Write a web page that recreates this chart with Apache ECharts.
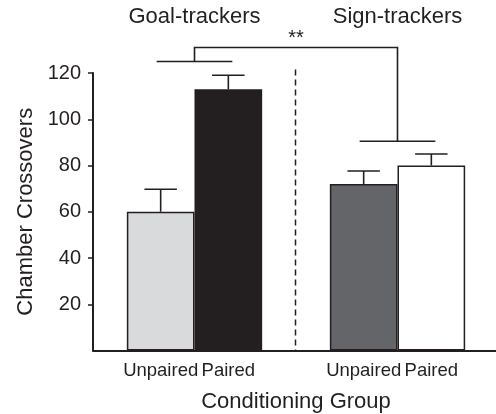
<!DOCTYPE html>
<html>
<head>
<meta charset="utf-8">
<script src="https://cdn.jsdelivr.net/npm/echarts@6/dist/echarts.min.js"></script>
<style>html,body{margin:0;padding:0;background:#fff;}#c{width:496px;height:414px;}</style>
</head>
<body>
<div id="c"></div>
<script>
// ---- data ----
const groups = ['Goal-trackers', 'Sign-trackers'];
const conditions = ['Unpaired', 'Paired'];
const unpairedMeans = [60, 72];
const pairedMeans = [113, 80];
const unpairedSem = [9.7, 5.6];
const pairedSem = [6, 5];
const yTickValues = [20, 40, 60, 80, 100, 120];
const groupBracketLevels = [125, 90.5];
const overallBracketLevel = 131;
const significanceText = '**';
const separatorTop = 121.5;

// ---- styles ----
const INK = '#231f20';
const FONT = '"Liberation Sans", Arial, Helvetica, sans-serif';
const unpairedColors = ['#d9dadc', '#646568'];
const pairedColors = ['#231f20', '#ffffff'];

const chart = echarts.init(document.getElementById('c'), null, {renderer: 'canvas'});

const errRows = [];
unpairedMeans.forEach((m, i) => errRows.push([i, m, unpairedSem[i], -1]));
pairedMeans.forEach((m, i) => errRows.push([i, m, pairedSem[i], 1]));

function barSeries(name, means, colors) {
  return {
    type: 'bar', name: name, barWidth: '33.33%', barGap: 0,
    data: means.map((v, i) => ({value: v, itemStyle: {color: colors[i]}})),
    itemStyle: {borderColor: INK, borderWidth: 1.5},
    label: {show: true, position: 'bottom', distance: 11, formatter: '{a}',
            fontSize: 18.5, fontFamily: FONT, color: INK},
    emphasis: {disabled: true},
    silent: true
  };
}

const option = {
  animation: false,
  backgroundColor: '#fff',
  grid: {left: 93, top: 73, width: 406, bottom: 63.5, outerBoundsMode: 'none', containLabel: false},
  xAxis: [
    {
      type: 'category', data: groups, position: 'bottom',
      name: 'Conditioning Group', nameLocation: 'middle', nameGap: 40,
      nameTextStyle: {fontSize: 22, fontFamily: FONT, color: INK},
      axisLine: {lineStyle: {color: INK, width: 2}},
      axisTick: {show: false},
      axisLabel: {show: false},
      splitLine: {show: false}
    },
    {
      type: 'category', data: groups, position: 'top',
      axisLine: {show: false}, axisTick: {show: false},
      axisLabel: {fontSize: 22, fontFamily: FONT, color: INK, margin: 45},
      splitLine: {show: false}
    }
  ],
  yAxis: {
    type: 'value', min: 0, max: 120, interval: 20,
    name: 'Chamber Crossovers', nameLocation: 'middle', nameGap: 55,
    nameTextStyle: {fontSize: 22, fontFamily: FONT, color: INK},
    axisLine: {show: true, lineStyle: {color: INK, width: 2}},
    axisTick: {show: true, length: 5, lineStyle: {color: INK, width: 1.5}, customValues: yTickValues},
    axisLabel: {fontSize: 20, fontFamily: FONT, color: INK, margin: 12, customValues: yTickValues},
    splitLine: {show: false}
  },
  series: [
    barSeries(conditions[0], unpairedMeans, unpairedColors),
    barSeries(conditions[1], pairedMeans, pairedColors),
    {
      type: 'custom', name: 'sem', silent: true, z: 5, clip: false,
      encode: {x: 0, y: 1},
      data: errRows,
      renderItem: function (params, api) {
        const ci = api.value(0), mean = api.value(1), sem = api.value(2), side = api.value(3);
        const bw = api.size([1, 0])[0];
        const base = api.coord([ci, mean]);
        const top = api.coord([ci, mean + sem]);
        const x = base[0] + side * bw / 6;
        const half = bw * 0.08;
        const st = {stroke: INK, lineWidth: 1.6};
        return {type: 'group', children: [
          {type: 'line', shape: {x1: x, y1: base[1], x2: x, y2: top[1]}, style: st},
          {type: 'line', shape: {x1: x - half, y1: top[1], x2: x + half, y2: top[1]}, style: st}
        ]};
      }
    },
    {
      type: 'custom', name: 'annot', silent: true, z: 6, clip: false,
      encode: {x: 0, y: 1},
      data: [[0, overallBracketLevel]],
      renderItem: function (params, api) {
        const bw = api.size([1, 0])[0];
        const g0 = api.coord([0, groupBracketLevels[0]]);
        const g1 = api.coord([1, groupBracketLevels[1]]);
        const topY = api.coord([0, overallBracketLevel])[1];
        const sepX = Math.round(g0[0] + bw / 2) - 0.5;
        const sepTop = api.coord([0, separatorTop])[1];
        const sepBot = api.coord([0, 0])[1];
        const ext = 4;
        const st = {stroke: INK, lineWidth: 1.6, fill: null};
        return {type: 'group', children: [
          {type: 'line', shape: {x1: g0[0] - bw / 6 - ext, y1: g0[1], x2: g0[0] + bw / 6 + ext, y2: g0[1]}, style: st},
          {type: 'line', shape: {x1: g1[0] - bw / 6 - ext, y1: g1[1], x2: g1[0] + bw / 6 + ext, y2: g1[1]}, style: st},
          {type: 'polyline', shape: {points: [[g0[0], g0[1]], [g0[0], topY], [g1[0], topY], [g1[0], g1[1]]]}, style: st},
          {type: 'line', shape: {x1: sepX, y1: sepTop, x2: sepX, y2: sepBot},
           style: {stroke: INK, lineWidth: 1.5, lineDash: [6, 4]}},
          {type: 'text', x: (g0[0] + g1[0]) / 2, y: topY - 9,
           style: {text: significanceText, fontSize: 20, fontFamily: FONT, fill: INK,
                   align: 'center', verticalAlign: 'middle'}}
        ]};
      }
    }
  ]
};
chart.setOption(option);
</script>
</body>
</html>
